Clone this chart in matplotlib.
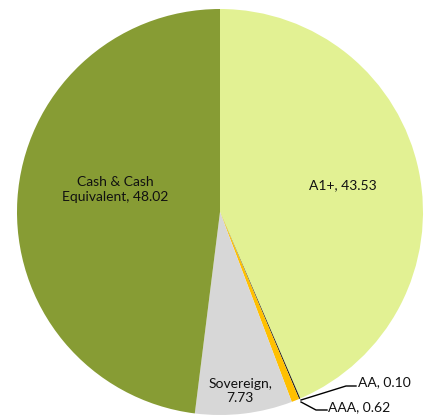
import matplotlib
matplotlib.use("Agg")
import matplotlib.pyplot as plt

categories = ["A1+", "AA", "AAA", "Sovereign", "Cash & Cash\nEquivalent"]
values = [43.53, 0.10, 0.62, 7.73, 48.02]
value_labels = ["43.53", "0.10", "0.62", "7.73", "48.02"]
colors = ["#E2F193", "#1A1A1A", "#FFC000", "#D7D7D7", "#879C34"]

W, H = 425, 415
fig = plt.figure(figsize=(W / 100, H / 100), dpi=100)
ax = fig.add_axes([0, 0, 1, 1])

def Y(y):
    # convert a top-down pixel row to the y-up data coordinate
    return H - y

cx, cy, r = 220, 212, 203
wedges, _ = ax.pie(values, colors=colors, startangle=90, counterclock=False,
                   center=(cx, Y(cy)), radius=r,
                   wedgeprops=dict(linewidth=0))
ax.set_xlim(0, W)
ax.set_ylim(0, H)
ax.set_aspect("equal")
ax.axis("off")

font = dict(family="Lato", fontsize=10, color="#111111", zorder=5)

def label(i):
    return f"{categories[i]}, {value_labels[i]}"

ax.text(343, Y(185), label(0), ha="center", va="center", **font)
ax.text(115, Y(190), label(4), ha="center", va="center", linespacing=1.3, **font)
ax.text(240, Y(391), f"{categories[3]},\n{value_labels[3]}", ha="center", va="center",
        linespacing=1.3, **font)

ax.text(358, Y(382), label(1), ha="left", va="center", **font)
ax.text(328, Y(407), label(2), ha="left", va="center", **font)
ax.plot([301, 346, 356], [Y(400), Y(386), Y(386)], color="black", lw=1, zorder=4)
ax.plot([301, 316, 327], [Y(402), Y(410), Y(410)], color="black", lw=1, zorder=4)

fig.savefig("out.png", dpi=100)
